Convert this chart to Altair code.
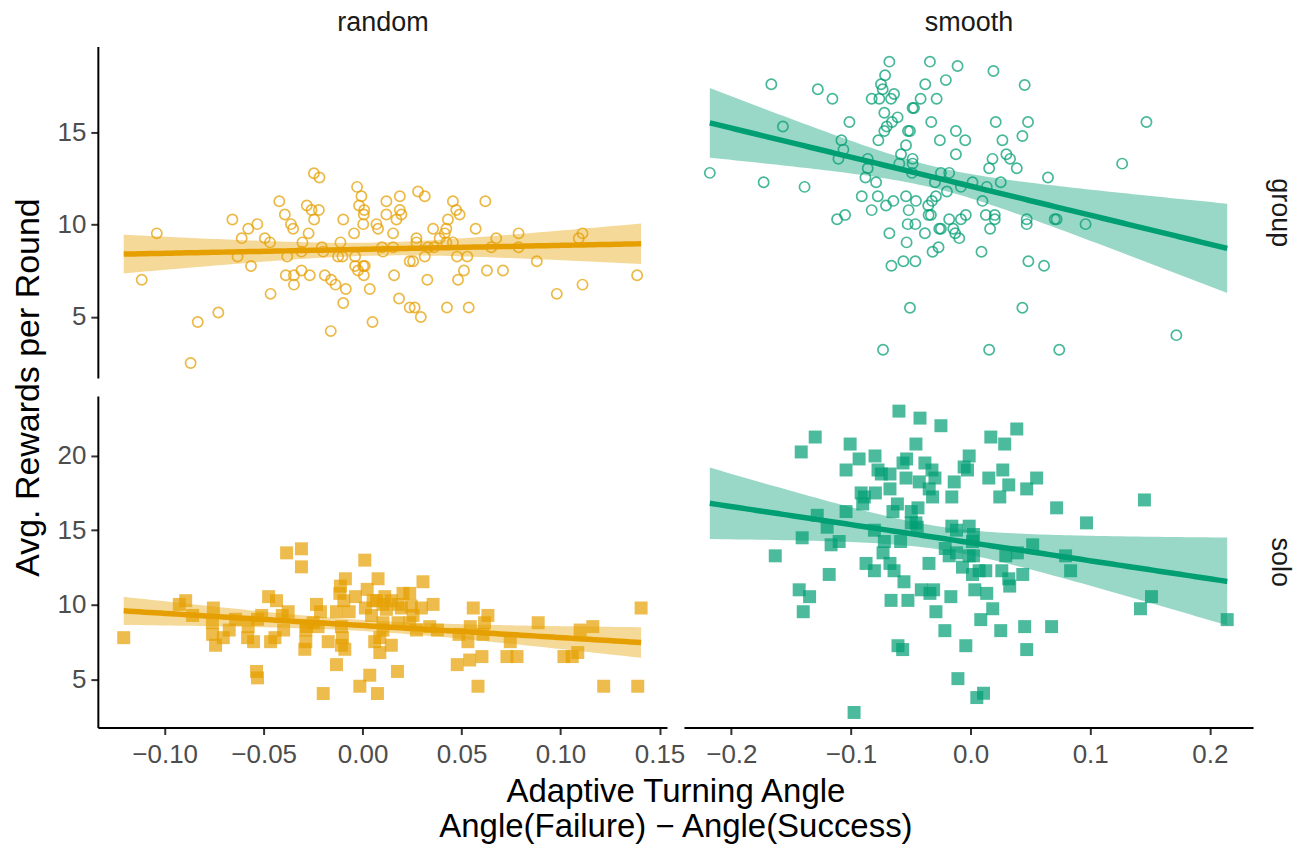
import altair as alt
import numpy as np
import pandas as pd

# ---------------- data (x = adaptive turning angle, y = avg rewards per round) ----------------
random_group = [
    (-0.1040, 9.52), (-0.1116, 7.00), (-0.0833, 4.71), (-0.0729, 5.23), (-0.0869, 2.49),
    (-0.0658, 10.27), (-0.0578, 9.77), (-0.0532, 10.02), (-0.0611, 9.26), (-0.0494, 9.26),
    (-0.0468, 9.03), (-0.0632, 8.26), (-0.0564, 7.75), (-0.0421, 11.26), (-0.0393, 10.54),
    (-0.0362, 10.02), (-0.0351, 9.77), (-0.0465, 6.24), (-0.0388, 7.25), (-0.0347, 7.25),
    (-0.0347, 6.74), (-0.0309, 7.51), (-0.0267, 7.25), (-0.0273, 9.52), (-0.0246, 12.78),
    (-0.0218, 12.55), (-0.0282, 11.03), (-0.0258, 10.79), (-0.0221, 10.79), (-0.0245, 10.27),
    (-0.0304, 9.03), (-0.0309, 8.53), (-0.0381, 8.26), (-0.0206, 8.77), (-0.0199, 8.53),
    (-0.0191, 7.25), (-0.0159, 7.00), (-0.0137, 6.74), (-0.0161, 4.22), (-0.0098, 5.74),
    (-0.0085, 6.50), (-0.0098, 10.27), (-0.0112, 9.03), (-0.0124, 8.26), (-0.0102, 8.26),
    (-0.0038, 8.26), (-0.0043, 9.52), (-0.0028, 12.04), (-0.0006, 11.53), (-0.0018, 11.03),
    (0.0008, 10.79), (0.0006, 10.54), (0.0003, 10.02), (-0.0038, 7.75), (-0.0023, 7.51),
    (0.0003, 7.75), (0.0011, 7.75), (0.0006, 7.25), (0.0036, 6.50), (0.0050, 4.71),
    (0.0070, 10.02), (0.0078, 9.77),
    (0.0120, 11.26), (0.0188, 11.53), (0.0280, 11.79), (0.0314, 11.53), (0.0120, 10.54),
    (0.0188, 10.79), (0.0196, 10.54), (0.0171, 10.27), (0.0154, 9.52), (0.0272, 9.26),
    (0.0272, 9.03), (0.0098, 8.77), (0.0103, 8.53), (0.0154, 8.77), (0.0238, 8.01),
    (0.0255, 8.01), (0.0314, 8.26), (0.0331, 8.77), (0.0356, 9.77), (0.0361, 8.77),
    (0.0389, 9.26), (0.0415, 9.52), (0.0423, 9.77), (0.0431, 10.27), (0.0423, 9.03),
    (0.0456, 11.26), (0.0473, 10.79), (0.0490, 10.54), (0.0456, 9.03), (0.0477, 8.26),
    (0.0529, 8.26), (0.0512, 7.51), (0.0482, 7.00), (0.0327, 7.00), (0.0159, 7.25),
    (0.0184, 5.99), (0.0238, 5.50), (0.0263, 5.50), (0.0294, 4.98), (0.0426, 5.50),
    (0.0536, 5.50), (0.0571, 9.77), (0.0620, 11.26), (0.0650, 8.77), (0.0675, 9.26),
    (0.0628, 7.51), (0.0709, 7.51), (0.0788, 9.52), (0.0788, 8.77), (0.0880, 8.01),
    (0.0981, 6.24), (0.1092, 9.26), (0.1111, 9.52), (0.1111, 6.74), (0.1387, 7.25),
]

smooth_group = [
    (-0.0679, 18.83), (-0.0340, 18.83), (-0.0109, 18.59), (-0.0715, 18.09), (-0.0749, 17.60),
    (-0.0735, 17.33), (-0.1666, 17.60), (-0.1277, 17.33), (-0.1155, 16.82), (-0.0827, 16.82),
    (-0.0763, 16.82), (-0.0665, 16.82), (-0.0640, 17.08), (-0.0379, 17.60), (-0.0207, 17.83),
    (-0.0418, 16.82), (-0.0284, 16.82), (-0.0721, 16.06), (-0.0485, 16.32), (-0.0473, 16.32),
    (-0.0610, 15.81), (-0.0657, 15.56), (-0.0701, 15.31), (-0.0721, 15.07), (-0.1013, 15.56),
    (-0.1569, 15.31), (-0.0329, 15.56), (-0.0523, 15.07), (-0.0507, 15.07), (-0.0123, 15.07),
    (-0.0771, 14.57), (-0.1080, 14.57), (-0.0540, 14.30), (-0.0257, 14.57), (-0.0045, 14.57),
    (-0.1063, 14.06), (-0.1105, 13.56), (-0.0860, 13.56), (-0.0582, 13.81), (-0.0485, 13.56),
    (-0.0123, 13.81), (-0.0860, 13.05), (-0.0596, 13.30), (-0.0485, 13.30), (-0.2180, 12.80),
    (-0.1730, 12.29), (-0.1388, 12.04), (-0.0879, 12.55), (-0.0790, 12.29), (-0.0490, 12.80),
    (-0.0248, 12.80), (-0.0179, 12.80), (-0.0298, 12.29), (-0.0081, 12.04), (-0.0910, 11.53),
    (-0.0776, 11.53), (-0.0646, 11.28), (-0.0707, 11.03), (-0.0540, 11.53), (-0.0457, 11.28),
    (-0.0290, 11.53), (-0.0323, 11.28), (-0.0354, 11.03), (-0.0198, 11.79), (-0.0827, 10.78),
    (-0.0518, 10.78), (-0.0351, 10.52), (-0.0332, 10.52), (-0.1116, 10.28), (-0.1049, 10.52),
    (-0.0526, 10.02), (-0.0462, 10.02), (-0.0179, 10.28), (-0.0081, 10.28), (-0.0040, 10.52),
    (-0.0262, 9.77), (-0.0248, 9.77), (-0.0145, 9.77), (-0.0129, 9.53), (-0.0095, 9.26),
    (-0.0679, 9.53), (-0.0382, 9.53), (-0.0535, 9.03), (-0.0268, 8.77), (-0.0318, 8.52),
    (-0.0662, 7.76), (-0.0562, 8.01), (-0.0462, 8.01), (-0.0507, 5.49), (-0.0732, 3.21),
    (0.0191, 18.32), (0.0452, 17.56), (0.0210, 15.56), (0.0480, 15.56), (0.1470, 15.56),
    (0.0266, 14.57), (0.0433, 14.80), (0.0299, 13.81), (0.0330, 13.56), (0.0183, 13.56),
    (0.0155, 13.05), (0.0386, 13.05), (0.1267, 13.30), (0.0647, 12.55), (0.0016, 12.29),
    (0.0135, 12.04), (0.0252, 12.29), (0.0099, 11.28), (0.0127, 10.52), (0.0202, 10.52),
    (0.0202, 10.28), (0.0163, 9.77), (0.0469, 10.28), (0.0469, 10.02), (0.0703, 10.28),
    (0.0719, 10.28), (0.0961, 10.02), (0.0091, 8.52), (0.0483, 8.01), (0.0614, 7.76),
    (0.0433, 5.49), (0.0155, 3.21), (0.0741, 3.21), (0.1720, 4.00),
]

random_solo = [
    (-0.1207, 7.79), (-0.0926, 10.02), (-0.0894, 10.27), (-0.0859, 9.28), (-0.0754, 9.78),
    (-0.0759, 8.79), (-0.0758, 8.01), (-0.0743, 7.28), (-0.0704, 7.79), (-0.0674, 8.30),
    (-0.0642, 9.02), (-0.0578, 8.53), (-0.0581, 7.79), (-0.0551, 7.52), (-0.0531, 9.02),
    (-0.0510, 9.28), (-0.0475, 10.54), (-0.0435, 10.27), (-0.0465, 7.52), (-0.0443, 7.79),
    (-0.0406, 9.28), (-0.0376, 9.53), (-0.0399, 8.30), (-0.0536, 5.52), (-0.0531, 5.09),
    (-0.0384, 13.48), (-0.0309, 13.75), (-0.0309, 12.54), (-0.0233, 10.02), (-0.0213, 9.53),
    (-0.0225, 8.53), (-0.0283, 8.53), (-0.0250, 8.79), (-0.0287, 8.30), (-0.0287, 7.52),
    (-0.0292, 7.01), (-0.0174, 7.52), (-0.0199, 4.04), (-0.0132, 5.98), (-0.0115, 10.76),
    (-0.0112, 11.25), (-0.0087, 11.74), (-0.0095, 10.27), (-0.0132, 9.53), (-0.0068, 9.53),
    (-0.0107, 8.53), (-0.0102, 7.79), (-0.0107, 7.28), (-0.0090, 7.01), (-0.0036, 10.54),
    (0.0011, 12.99), (0.0023, 11.03), (0.0014, 9.78), (0.0053, 10.27), (0.0078, 11.74),
    (0.0070, 10.27), (0.0045, 9.28), (0.0061, 7.52), (0.0087, 7.79), (0.0087, 6.79),
    (-0.0014, 4.53), (0.0036, 5.27), (0.0075, 4.04),
    (0.0112, 10.54), (0.0103, 10.02), (0.0120, 9.69), (0.0103, 8.79), (0.0103, 8.30),
    (0.0145, 7.28), (0.0176, 5.52), (0.0179, 10.02), (0.0196, 9.78), (0.0204, 10.76),
    (0.0238, 10.76), (0.0246, 9.91), (0.0255, 9.28), (0.0297, 9.78), (0.0305, 11.54),
    (0.0356, 10.02), (0.0179, 8.79), (0.0272, 8.30), (0.0339, 8.53), (0.0378, 8.30),
    (0.0238, 8.79), (0.0487, 8.01), (0.0532, 7.52), (0.0478, 5.98), (0.0541, 6.29),
    (0.0603, 6.52), (0.0559, 9.78), (0.0544, 8.53), (0.0616, 8.79), (0.0633, 9.28),
    (0.0608, 8.01), (0.0583, 4.53), (0.0746, 7.52), (0.0729, 6.52), (0.0780, 6.52),
    (0.0887, 8.79), (0.1017, 6.52), (0.1059, 6.52), (0.1087, 6.79), (0.1099, 8.30),
    (0.1163, 8.53), (0.1218, 4.53), (0.1390, 4.53), (0.1407, 9.78), (0.0145, 10.27),
]

smooth_solo = [
    (-0.0599, 22.99), (-0.0423, 22.52), (-0.0248, 22.01), (-0.1299, 21.25), (-0.1416, 20.25),
    (-0.1007, 20.78), (-0.0457, 20.78), (-0.0932, 19.78), (-0.0799, 19.98), (-0.1041, 19.04),
    (-0.0774, 19.04), (-0.0746, 18.77), (-0.0674, 18.77), (-0.0565, 19.51), (-0.0535, 19.78),
    (-0.0540, 18.50), (-0.0429, 18.24), (-0.0382, 19.51), (-0.0323, 19.04), (-0.0298, 18.50),
    (-0.0346, 17.77), (-0.0318, 17.23), (-0.0137, 18.24), (-0.0157, 17.23), (-0.0054, 19.24),
    (-0.0026, 19.04), (-0.0012, 19.98), (-0.0915, 17.50), (-0.0888, 17.23), (-0.0796, 17.50),
    (-0.0674, 17.77), (-0.0902, 16.76), (-0.0612, 16.76), (-0.0649, 16.25), (-0.0496, 16.25),
    (-0.0440, 16.50), (-0.1041, 16.25), (-0.1282, 16.00), (-0.1199, 15.20), (-0.1408, 14.49),
    (-0.1166, 14.02), (-0.1099, 14.24), (-0.1633, 13.28), (-0.0804, 15.00), (-0.0721, 14.24),
    (-0.0732, 13.48), (-0.0585, 14.24), (-0.0496, 15.49), (-0.0457, 15.49), (-0.0446, 15.20),
    (-0.0157, 15.27), (-0.0118, 15.00), (-0.0012, 15.27), (-0.0212, 13.77), (-0.0179, 13.28),
    (-0.0118, 13.48), (-0.0068, 12.52), (-0.0012, 13.28), (-0.0874, 12.77), (-0.0804, 12.28),
    (-0.0674, 12.77), (-0.0640, 12.28), (-0.0557, 11.54), (-0.0348, 12.77), (-0.1182, 12.03),
    (-0.1433, 11.00), (-0.1346, 10.54), (-0.1399, 9.53), (-0.0665, 10.29), (-0.0524, 10.29),
    (-0.0412, 11.00), (-0.0340, 10.76), (-0.0309, 11.00), (-0.0165, 10.54), (-0.0290, 9.53),
    (-0.0215, 8.26), (-0.0607, 7.25), (-0.0568, 6.99), (-0.0040, 7.25), (-0.0106, 5.04),
    (-0.0974, 2.77),
    (0.0386, 21.79), (0.0169, 21.25), (0.0285, 20.78), (0.0269, 19.04), (0.0152, 18.50),
    (0.0319, 18.04), (0.0469, 17.77), (0.0552, 18.50), (0.0244, 17.23), (0.0719, 16.50),
    (0.0969, 15.49), (0.1453, 17.03), (0.0024, 14.71), (0.0016, 14.24), (0.0519, 14.02),
    (0.0294, 13.28), (0.0391, 13.48), (0.0794, 13.28), (0.0836, 12.28), (0.0024, 13.28),
    (0.0071, 12.28), (0.0127, 12.28), (0.0016, 12.03), (0.0261, 12.28), (0.0319, 11.74),
    (0.0327, 11.25), (0.0436, 12.03), (0.0035, 11.00), (0.0135, 10.76), (0.0185, 9.73),
    (0.0085, 9.00), (0.0252, 8.26), (0.0452, 8.53), (0.0677, 8.53), (0.0469, 6.99),
    (0.0052, 3.77), (0.0108, 4.06), (0.1420, 9.73), (0.1512, 10.54), (0.2145, 9.00),
]

columns = ["random", "smooth"]
rows = ["group", "solo"]
x_ticks_random = [-0.10, -0.05, 0.00, 0.05, 0.10, 0.15]
x_ticks_smooth = [-0.2, -0.1, 0.0, 0.1, 0.2]
y_ticks_group = [5, 10, 15]
y_ticks_solo = [5, 10, 15, 20]
x_title = ["Adaptive Turning Angle", "Angle(Failure) \u2212 Angle(Success)"]
y_title = "Avg. Rewards per Round"

# ---------------- styling ----------------
ORANGE = "#E69F00"
GREEN = "#009E73"
FONT = "Liberation Sans"
W, H = 570, 332
GAP_X, GAP_Y = 17, 18
STRIP_SIZE = 27


def xs_of(p):
    return [a for a, _ in p]


def ys_of(p):
    return [b for _, b in p]


def expand(vals):
    lo, hi = min(vals), max(vals)
    r = hi - lo
    return [lo - 0.05 * r, hi + 0.05 * r]


def t975(df):
    z = 1.959964
    return z + (z ** 3 + z) / (4 * df) + (5 * z ** 5 + 16 * z ** 3 + 3 * z) / (96 * df ** 2)


def lm_band(pts, lo, hi, n=100):
    x = np.asarray(xs_of(pts), float)
    y = np.asarray(ys_of(pts), float)
    xb, yb = x.mean(), y.mean()
    sxx = ((x - xb) ** 2).sum()
    b1 = ((x - xb) * (y - yb)).sum() / sxx
    b0 = yb - b1 * xb
    res = y - (b0 + b1 * x)
    s = np.sqrt((res ** 2).sum() / (len(x) - 2))
    g = np.linspace(lo, hi, n)
    fit = b0 + b1 * g
    se = s * np.sqrt(1.0 / len(x) + (g - xb) ** 2 / sxx)
    t = t975(len(x) - 2)
    return pd.DataFrame({"x": g, "fit": fit, "lo": fit - t * se, "hi": fit + t * se})


xdom_random = expand(xs_of(random_group) + xs_of(random_solo))
xdom_smooth = expand(xs_of(smooth_group) + xs_of(smooth_solo))
ydom_group = expand(ys_of(random_group) + ys_of(smooth_group))
ydom_solo = expand(ys_of(random_solo) + ys_of(smooth_solo))
xr_random = [min(xs_of(random_group) + xs_of(random_solo)), max(xs_of(random_group) + xs_of(random_solo))]
xr_smooth = [min(xs_of(smooth_group) + xs_of(smooth_solo)), max(xs_of(smooth_group) + xs_of(smooth_solo))]


def cell(pts, color, shape, xdom, ydom, xrng, xaxis, yaxis):
    pdf = pd.DataFrame({"x": xs_of(pts), "y": ys_of(pts)})
    bdf = lm_band(pts, xrng[0], xrng[1])
    xsc = alt.Scale(domain=xdom, nice=False, zero=False)
    ysc = alt.Scale(domain=ydom, nice=False, zero=False)
    if shape == "circle":
        pm = alt.Chart(pdf).mark_point(shape="circle", filled=False, size=105,
                                       strokeWidth=1.7, color=color, opacity=0.72)
    else:
        pm = alt.Chart(pdf).mark_point(shape="square", filled=True, size=169,
                                       color=color, opacity=0.7, strokeWidth=0)
    pm = pm.encode(x=alt.X("x:Q", scale=xsc, axis=xaxis),
                   y=alt.Y("y:Q", scale=ysc, axis=yaxis))
    area = alt.Chart(bdf).mark_area(color=color, opacity=0.4).encode(
        x=alt.X("x:Q", scale=xsc, axis=xaxis),
        y=alt.Y("lo:Q", scale=ysc, axis=yaxis),
        y2="hi:Q")
    line = alt.Chart(bdf).mark_line(color=color, strokeWidth=5.5).encode(
        x=alt.X("x:Q", scale=xsc, axis=xaxis),
        y=alt.Y("fit:Q", scale=ysc, axis=yaxis))
    return alt.layer(pm, area, line).properties(width=W, height=H)


def col_axis(label):
    # strip label above the panel, drawn as the title of a bare top axis
    return alt.Axis(orient="top", labels=False, ticks=False, domain=False, title=label,
                    titleX=W / 2, titleY=-16, titleBaseline="alphabetic", titleAlign="center",
                    titleAngle=0, titleFontSize=STRIP_SIZE, titleColor="#1A1A1A")


def row_axis(label):
    # strip label right of the panel, drawn as the title of a bare right axis
    return alt.Axis(orient="right", labels=False, ticks=False, domain=False, title=label,
                    titleAngle=90, titleX=26, titleY=H / 2, titleBaseline="middle",
                    titleAlign="center", titleFontSize=STRIP_SIZE, titleColor="#1A1A1A")


ax_y_group = alt.Axis(values=y_ticks_group, title=y_title, titleAngle=270,
                      titleX=-69, titleY=(2 * H + GAP_Y) / 2, titleBaseline="middle",
                      titleAlign="center")
ax_y_solo = alt.Axis(values=y_ticks_solo, title=None)
ax_x_random = alt.Axis(values=x_ticks_random, format=".2f", title=x_title,
                       titleX=(2 * W + GAP_X) / 2, titleY=48, titleBaseline="top",
                       titleAlign="center", titleAngle=0, titleLineHeight=35,
                       titleFontSize=33)
ax_x_smooth = alt.Axis(values=x_ticks_smooth, format=".1f", title=None)

tl = cell(random_group, ORANGE, "circle", xdom_random, ydom_group, xr_random, col_axis(columns[0]), ax_y_group)
tr = cell(smooth_group, GREEN, "circle", xdom_smooth, ydom_group, xr_smooth, col_axis(columns[1]), row_axis(rows[0]))
bl = cell(random_solo, ORANGE, "square", xdom_random, ydom_solo, xr_random, ax_x_random, ax_y_solo)
br = cell(smooth_solo, GREEN, "square", xdom_smooth, ydom_solo, xr_smooth, ax_x_smooth, row_axis(rows[1]))

chart = alt.concat(tl, tr, bl, br, columns=2, spacing={"row": GAP_Y, "column": GAP_X},
                   bounds="flush").properties(
    padding={"left": 12, "top": 8, "right": 5, "bottom": 5}
).configure_view(stroke=None).configure_axis(
    grid=False, domainColor="black", domainWidth=2, tickColor="#333333", tickWidth=2,
    tickSize=7, labelFont=FONT, labelFontSize=26, labelColor="#4D4D4D",
    labelPadding=5, labelFlush=False, labelOverlap=False,
    titleFont=FONT, titleFontSize=34, titleColor="black", titleFontWeight="normal"
).configure_axisBottom(labelPadding=7)

chart.save("out.html", embed_options={"renderer": "svg", "actions": False})
